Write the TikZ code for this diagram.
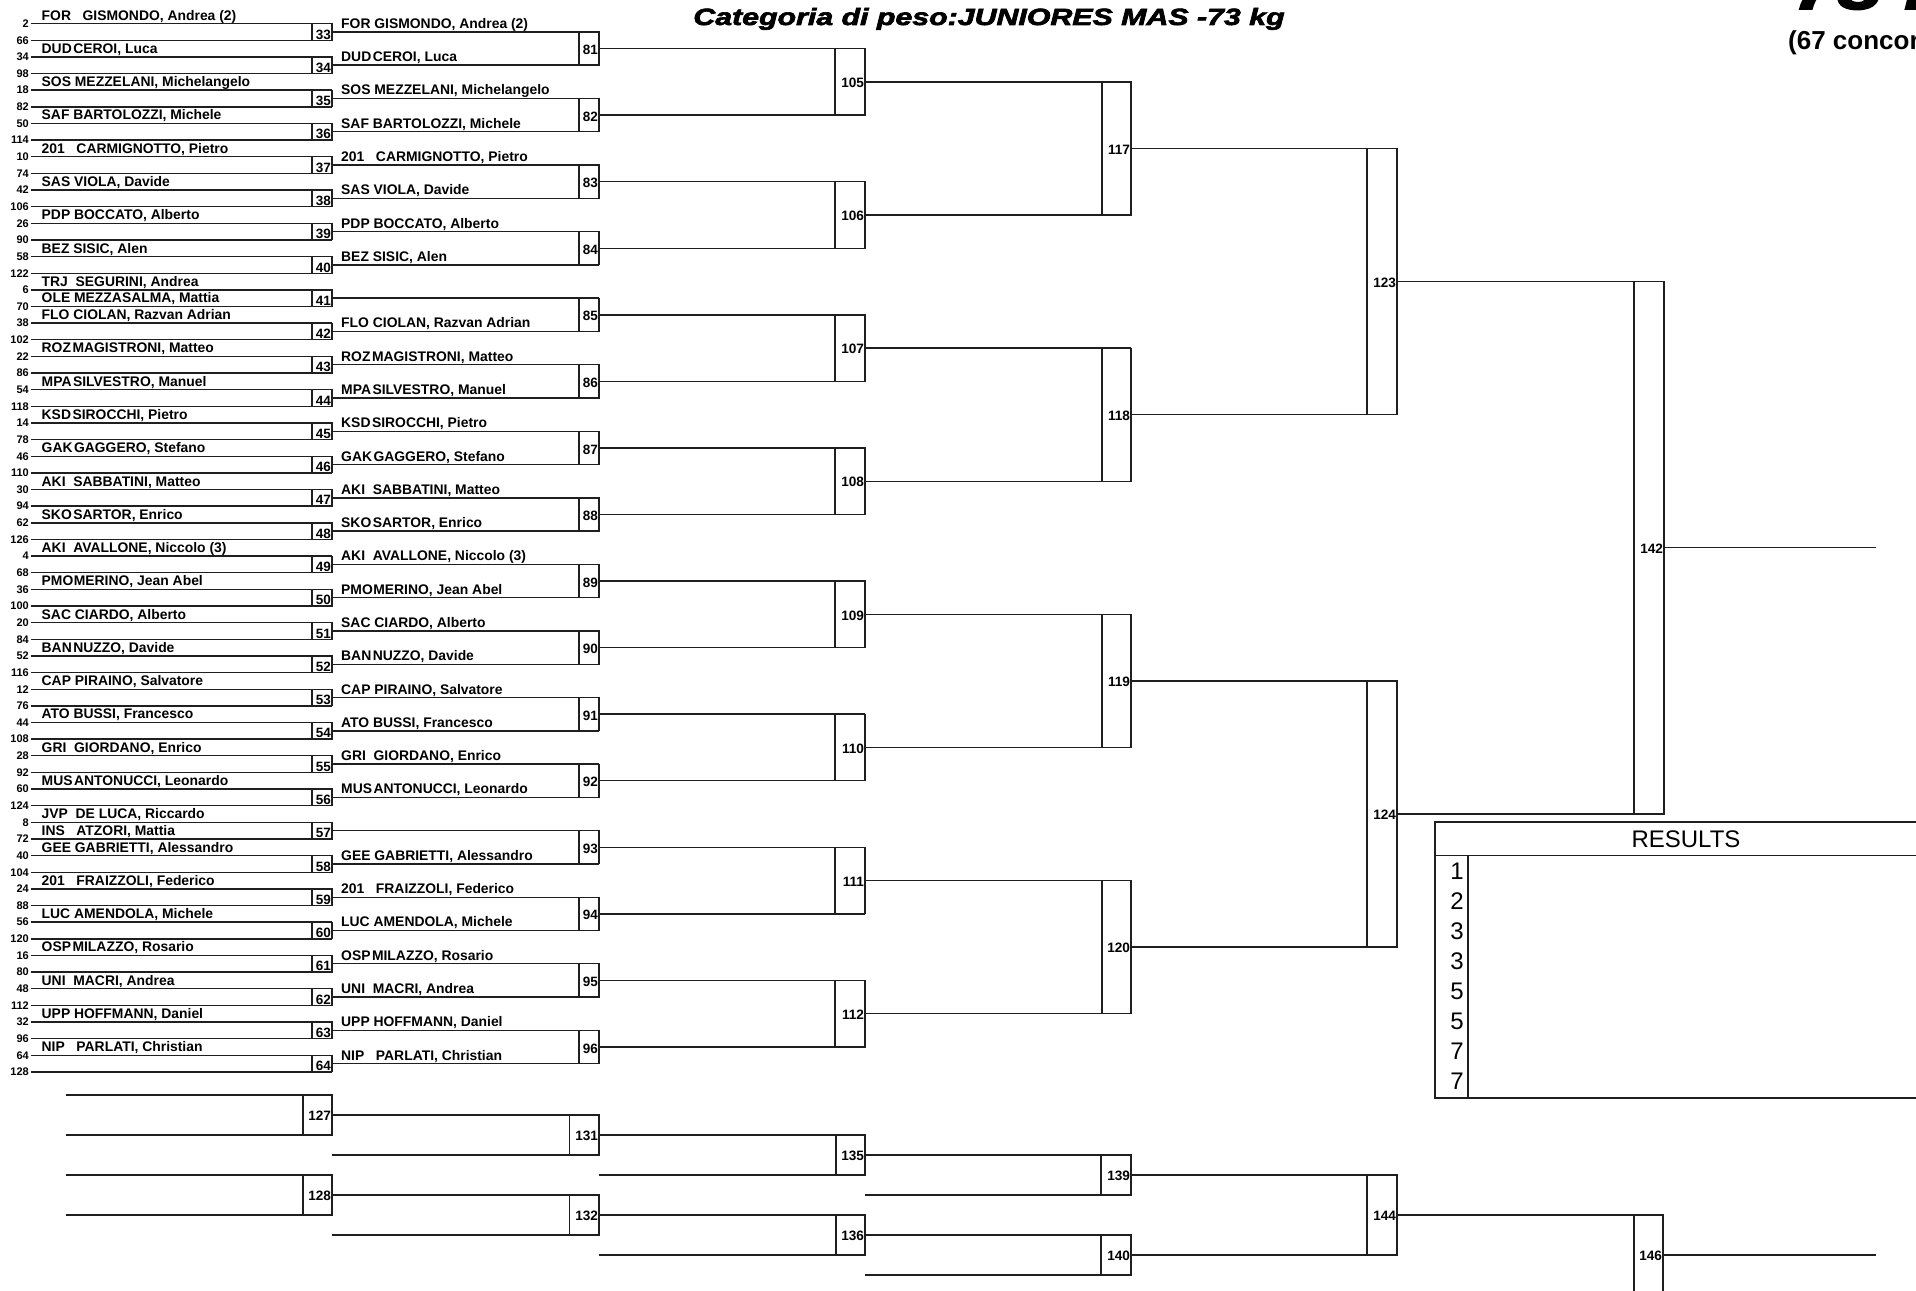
\documentclass[tikz,border=0pt]{standalone}
\usepackage{fontspec}
\setmainfont{Liberation Sans}
\newfontfamily\titlefont{Liberation Sans}[FakeBold=2.6]
\usepackage{graphicx}
\tikzset{
  hline/.style={line width=1.4pt, draw=black!88},
  boxl/.style={line width=1.1pt, draw=black!88},
  seed/.style={anchor=east, inner sep=0pt, font=\fontsize{11}{11}\selectfont\bfseries},
  pname/.style={anchor=base west, inner sep=0pt, font=\fontsize{13.9}{14}\selectfont\bfseries},
  blab/.style={anchor=east, inner sep=0pt, font=\fontsize{13.5}{14}\selectfont\bfseries},
  clab/.style={anchor=east, inner sep=0pt, font=\fontsize{13.6}{14}\selectfont\bfseries},
  rnum/.style={anchor=east, inner sep=0pt, font=\fontsize{24}{24}\selectfont},
}
% first round match: #1 index, #2 top seed, #3 bottom seed, #4 top name, #5 bottom name, #6 winner name
\newcommand\RA[6]{%
  \pgfmathsetmacro\yt{23.6+33.28*#1}%
  \pgfmathsetmacro\yb{\yt+16.64}%
  \pgfmathsetmacro\yc{\yt+8.32}%
  \pgfmathtruncatemacro\mn{33+#1}%
  \draw[hline] (31,\yt) -- (332,\yt);
  \draw[hline] (31,\yb) -- (332,\yb);
  \draw[boxl] (312,\yt) rectangle (332,\yb);
  \node[seed] (s#2) at (29,\yt) {#2};
  \node[seed] (s#3) at (29,\yb) {#3};
  \node[blab] (m\mn) at (331,\yc+2.5) {\mn};
  \ifx\relax#4\relax\else\node[pname] (na\mn) at (41.5,\yt-3.5) {#4};\fi
  \ifx\relax#5\relax\else\node[pname] (nb\mn) at (41.5,\yb-3.5) {#5};\fi
  \ifx\relax#6\relax\else\node[pname] (nc\mn) at (341,\yc-3.5) {#6};\fi
}
% later rounds: #1 round, #2 line start x, #3 box left, #4 box right, #5 first number, #6 last index, #7 label dy, #8 label style
\newcommand\Round[8]{%
  \foreach \i in {0,...,#6}{%
    \pgfmathsetmacro\ya{23.6+16.64*(2^(#1-1)*(2*\i)+(2^(#1-1)-1)/2)}%
    \pgfmathsetmacro\yb{23.6+16.64*(2^(#1-1)*(2*\i+1)+(2^(#1-1)-1)/2)}%
    \pgfmathsetmacro\yc{(\ya+\yb)/2}%
    \pgfmathtruncatemacro\num{#5+\i}%
    \draw[hline] (#2,\ya) -- (#4,\ya);
    \draw[hline] (#2,\yb) -- (#4,\yb);
    \draw[boxl] (#3,\ya) rectangle (#4,\yb);
    \node[#8] (m\num) at (#4-0.8,\yc+#7) {\num};
  }}
% repechage box: #1 number, #2 line start, #3 box left, #4 box right, #5 top y, #6 bottom y
\newcommand\RB[6]{%
  \pgfmathsetmacro\yc{(#5+#6)/2+1}%
  \draw[hline] (#2,#5) -- (#4,#5);
  \draw[hline] (#2,#6) -- (#4,#6);
  \draw[boxl] (#3,#5) rectangle (#4,#6);
  \node[clab] (m#1) at (#4-0.8,\yc) {#1};
}
\begin{document}
\begin{tikzpicture}[x=1pt,y=-1pt]
\useasboundingbox (0,0) rectangle (1916,1290);
\clip (0,0) rectangle (1916,1290);
\fill[white] (0,0) rectangle (1916,1290);

\node[anchor=base] (title) at (989,25) {\scalebox{1.29}[1]{\titlefont\bfseries\itshape\fontsize{23.5}{24}\selectfont Categoria di peso:JUNIORES MAS -73 kg}};
\node[anchor=base west, inner sep=0pt] (big) at (1793,9) {\scalebox{1.29}[1]{\titlefont\bfseries\itshape\fontsize{62}{62}\selectfont 73 kg}};
\node[anchor=base west, inner sep=0pt] (conc) at (1788,49) {\bfseries\fontsize{26}{26}\selectfont (67 concorrenti)};

\RA{0}{2}{66}{FOR~~~GISMONDO, Andrea (2)}{}{FOR GISMONDO, Andrea (2)}
\RA{1}{34}{98}{DUD\kern1.5pt CEROI, Luca}{}{DUD\kern1.5pt CEROI, Luca}
\RA{2}{18}{82}{SOS MEZZELANI, Michelangelo}{}{SOS MEZZELANI, Michelangelo}
\RA{3}{50}{114}{SAF BARTOLOZZI, Michele}{}{SAF BARTOLOZZI, Michele}
\RA{4}{10}{74}{201~~~CARMIGNOTTO, Pietro}{}{201~~~CARMIGNOTTO, Pietro}
\RA{5}{42}{106}{SAS VIOLA, Davide}{}{SAS VIOLA, Davide}
\RA{6}{26}{90}{PDP BOCCATO, Alberto}{}{PDP BOCCATO, Alberto}
\RA{7}{58}{122}{BEZ SISIC, Alen}{}{BEZ SISIC, Alen}
\RA{8}{6}{70}{TRJ~~SEGURINI, Andrea}{OLE MEZZASALMA, Mattia}{}
\RA{9}{38}{102}{FLO CIOLAN, Razvan Adrian}{}{FLO CIOLAN, Razvan Adrian}
\RA{10}{22}{86}{ROZ\kern1.5pt MAGISTRONI, Matteo}{}{ROZ\kern1.5pt MAGISTRONI, Matteo}
\RA{11}{54}{118}{MPA\kern1.5pt SILVESTRO, Manuel}{}{MPA\kern1.5pt SILVESTRO, Manuel}
\RA{12}{14}{78}{KSD\kern1.5pt SIROCCHI, Pietro}{}{KSD\kern1.5pt SIROCCHI, Pietro}
\RA{13}{46}{110}{GAK\kern1.5pt GAGGERO, Stefano}{}{GAK\kern1.5pt GAGGERO, Stefano}
\RA{14}{30}{94}{AKI~~SABBATINI, Matteo}{}{AKI~~SABBATINI, Matteo}
\RA{15}{62}{126}{SKO\kern1.5pt SARTOR, Enrico}{}{SKO\kern1.5pt SARTOR, Enrico}
\RA{16}{4}{68}{AKI~~AVALLONE, Niccolo (3)}{}{AKI~~AVALLONE, Niccolo (3)}
\RA{17}{36}{100}{PMO\kern0.5pt MERINO, Jean Abel}{}{PMO\kern0.5pt MERINO, Jean Abel}
\RA{18}{20}{84}{SAC CIARDO, Alberto}{}{SAC CIARDO, Alberto}
\RA{19}{52}{116}{BAN\kern1.5pt NUZZO, Davide}{}{BAN\kern1.5pt NUZZO, Davide}
\RA{20}{12}{76}{CAP PIRAINO, Salvatore}{}{CAP PIRAINO, Salvatore}
\RA{21}{44}{108}{ATO BUSSI, Francesco}{}{ATO BUSSI, Francesco}
\RA{22}{28}{92}{GRI~~GIORDANO, Enrico}{}{GRI~~GIORDANO, Enrico}
\RA{23}{60}{124}{MUS\kern1.5pt ANTONUCCI, Leonardo}{}{MUS\kern1.5pt ANTONUCCI, Leonardo}
\RA{24}{8}{72}{JVP~~DE LUCA, Riccardo}{INS~~~ATZORI, Mattia}{}
\RA{25}{40}{104}{GEE GABRIETTI, Alessandro}{}{GEE GABRIETTI, Alessandro}
\RA{26}{24}{88}{201~~~FRAIZZOLI, Federico}{}{201~~~FRAIZZOLI, Federico}
\RA{27}{56}{120}{LUC AMENDOLA, Michele}{}{LUC AMENDOLA, Michele}
\RA{28}{16}{80}{OSP\kern1.5pt MILAZZO, Rosario}{}{OSP\kern1.5pt MILAZZO, Rosario}
\RA{29}{48}{112}{UNI~~MACRI, Andrea}{}{UNI~~MACRI, Andrea}
\RA{30}{32}{96}{UPP HOFFMANN, Daniel}{}{UPP HOFFMANN, Daniel}
\RA{31}{64}{128}{NIP~~~PARLATI, Christian}{}{NIP~~~PARLATI, Christian}

\Round{2}{332}{579}{599}{81}{15}{1.5}{blab}
\Round{3}{599}{835}{865}{105}{7}{1}{clab}
\Round{4}{865}{1102}{1131}{117}{3}{1}{clab}
\Round{5}{1131}{1367}{1397}{123}{1}{1}{clab}
\Round{6}{1397}{1634}{1664}{142}{0}{1}{clab}
\coordinate (w142) at (1876,547.76);
\draw[hline] (1664,547.76) -- (w142);

\RB{127}{66}{303}{332}{1095}{1135}
\RB{128}{66}{303}{332}{1175}{1215}
\RB{131}{332}{569.5}{599}{1115}{1155}
\RB{132}{332}{569.5}{599}{1195}{1235}
\RB{135}{599}{836}{865}{1135}{1175}
\RB{136}{599}{836}{865}{1215}{1255}
\RB{139}{865}{1101}{1131}{1155}{1195}
\RB{140}{865}{1101}{1131}{1235}{1275}
\RB{144}{1131}{1367}{1397}{1175}{1255}
\RB{146}{1397}{1634}{1663}{1215}{1295}
\coordinate (w146) at (1876,1255);
\draw[hline] (1663,1255) -- (w146);

% results table
\draw[boxl] (1435,822) rectangle (1925,1098);
\draw[boxl] (1435,855.7) -- (1925,855.7);
\draw[boxl] (1468,855.7) -- (1468,1098);
\node[inner sep=0pt] (res) at (1686,839.3) {\fontsize{24}{24}\selectfont RESULTS};
\foreach \v [count=\r from 0] in {1,2,3,3,5,5,7,7}{
  \node[rnum] (r\r) at (1464,871.7+29.9*\r) {\v};
}
\end{tikzpicture}
\end{document}
